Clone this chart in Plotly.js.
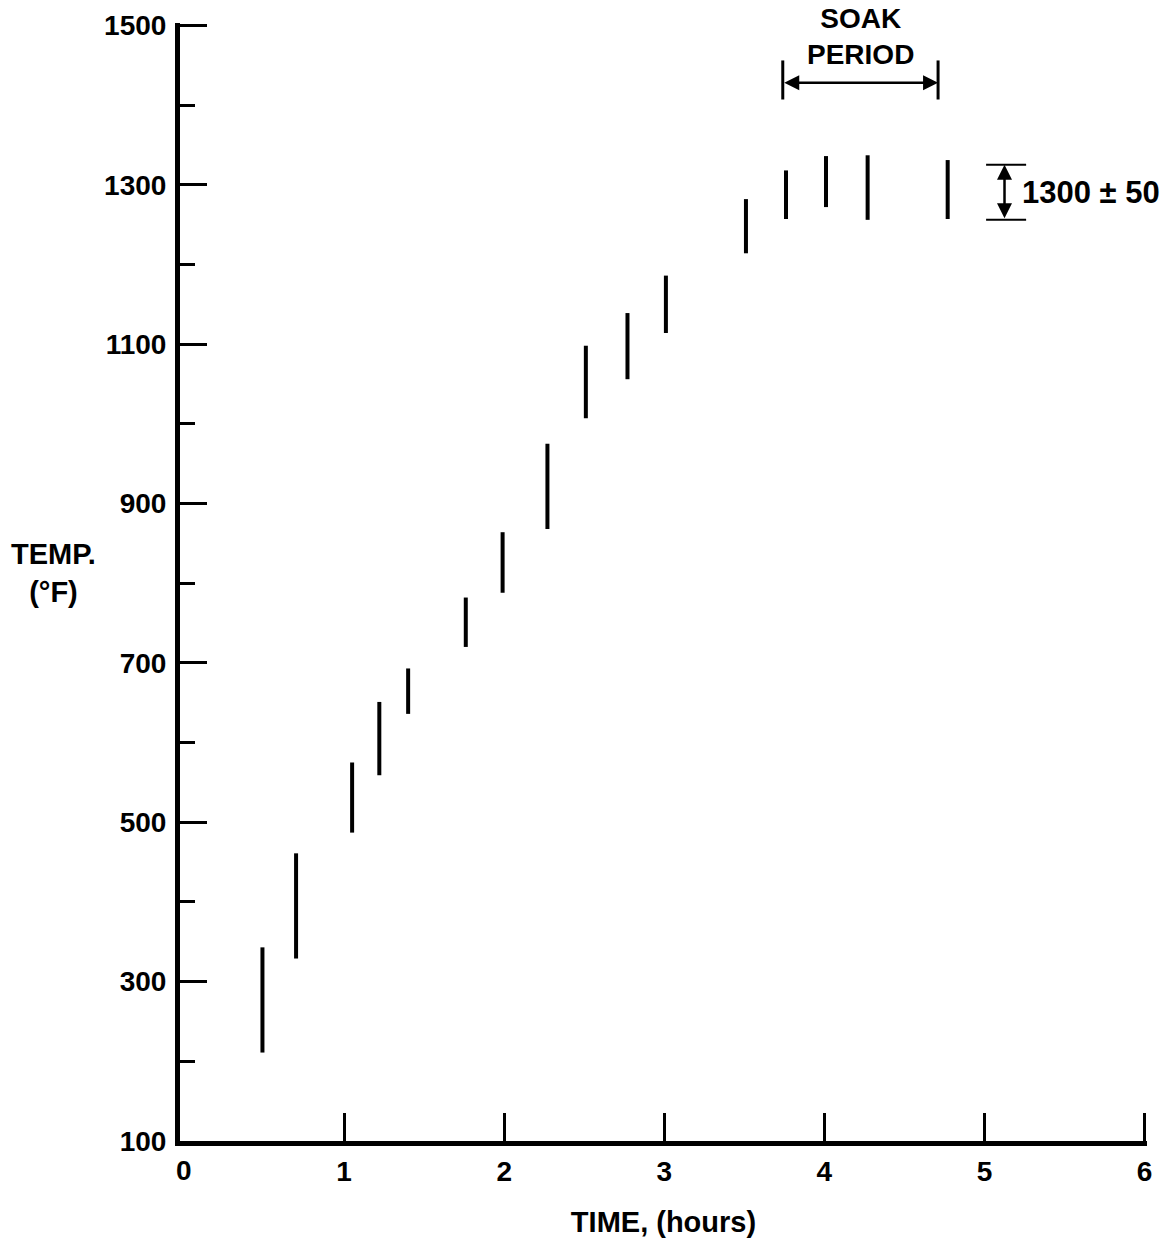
<!DOCTYPE html>
<html>
<head>
<meta charset="utf-8">
<script src="https://cdn.plot.ly/plotly-3.0.1.min.js"></script>
<style>
  html, body { margin: 0; padding: 0; background: #ffffff; }
  #chart { width: 1171px; height: 1250px; }
</style>
</head>
<body>
<div id="chart"></div>
<script>
// ---- Data ----
const timeHours = [0.49, 0.70, 1.05, 1.22, 1.40, 1.76, 1.99, 2.27, 2.51, 2.77, 3.01, 3.51, 3.76, 4.01, 4.27, 4.77];
const tempLow   = [211, 329, 487, 559, 636, 720, 788, 868, 1007, 1056, 1114, 1214, 1257, 1272, 1256, 1257];
const tempHigh  = [343, 461, 575, 651, 693, 782, 864, 975, 1098, 1139, 1186, 1282, 1318, 1336, 1337, 1331];

const xTickVals   = [0, 1, 2, 3, 4, 5, 6];
const xTickLabels = ['0', '1', '2', '3', '4', '5', '6'];
const yTickVals   = [100, 300, 500, 700, 900, 1100, 1300, 1500];
const yTickLabels = ['100', '300', '500', '700', '900', '1100', '1300', '1500'];

// Soak period bracket (hours) and tolerance band (°F)
const soakStart = 3.74;
const soakEnd   = 4.71;
const soakBracketLow  = 1407;
const soakBracketHigh = 1456;
const soakArrowY      = 1428;
const soakLabelY      = 1486;
const soakLabel       = 'SOAK<br>PERIOD';

const tolX0 = 5.01, tolX1 = 5.26, tolArrowX = 5.125;
const tolLow = 1256, tolHigh = 1325;
const tolLabel = '1300 ± 50';
const tolLabelX = 5.22, tolLabelY = 1290;

const xTitle = 'TIME, (hours)';
const yTitle = 'TEMP.<br>(°F)';

// ---- Build range segments ----
const segX = [], segY = [];
for (let i = 0; i < timeHours.length; i++) {
  segX.push(timeHours[i], timeHours[i], null);
  segY.push(tempLow[i], tempHigh[i], null);
}

const FONT = 'Liberation Sans, Arial, sans-serif';

const traces = [{
  type: 'scatter',
  mode: 'lines',
  x: segX,
  y: segY,
  line: { color: '#000', width: 4 },
  hoverinfo: 'skip',
  showlegend: false
}];

const layout = {
  width: 1171,
  height: 1250,
  margin: { l: 180, r: 24, t: 23, b: 109, pad: 0 },
  paper_bgcolor: '#fff',
  plot_bgcolor: '#fff',
  showlegend: false,
  font: { family: FONT, color: '#000', size: 28, weight: 'bold' },
  xaxis: {
    range: [-0.025, 6.015],
    tickvals: xTickVals.slice(1),
    ticktext: xTickLabels.slice(1),
    ticks: 'inside', ticklen: 28, tickwidth: 3, tickcolor: '#000',
    showline: true, linewidth: 5, linecolor: '#000',
    showgrid: false, zeroline: false,
    tickfont: { family: FONT, size: 28, color: '#000', weight: 'bold' },
    ticklabelstandoff: 1,
    title: { text: xTitle, font: { family: FONT, size: 29, color: '#000', weight: 'bold' }, standoff: 28 },
    fixedrange: true
  },
  yaxis: {
    range: [100, 1503],
    tickvals: yTickVals,
    ticktext: yTickLabels,
    ticks: 'inside', ticklen: 27, tickwidth: 3, tickcolor: '#000',
    minor: { ticks: 'inside', ticklen: 15, tickwidth: 3, tickcolor: '#000', dtick: 100, tick0: 100 },
    showline: true, linewidth: 5, linecolor: '#000',
    showgrid: false, zeroline: false,
    tickfont: { family: FONT, size: 28, color: '#000', weight: 'bold' },
    ticklabelstandoff: 3,
    fixedrange: true
  },
  shapes: [
    { type: 'line', xref: 'x', yref: 'y', x0: soakStart, x1: soakStart, y0: soakBracketLow, y1: soakBracketHigh, line: { color: '#000', width: 3 } },
    { type: 'line', xref: 'x', yref: 'y', x0: soakEnd, x1: soakEnd, y0: soakBracketLow, y1: soakBracketHigh, line: { color: '#000', width: 3 } },
    { type: 'line', xref: 'x', yref: 'y', x0: tolX0, x1: tolX1, y0: tolHigh, y1: tolHigh, line: { color: '#000', width: 2 } },
    { type: 'line', xref: 'x', yref: 'y', x0: tolX0, x1: tolX1, y0: tolLow, y1: tolLow, line: { color: '#000', width: 2 } }
  ],
  annotations: [
    // "0" tick label at the origin (no tick mark there in the reference)
    { xref: 'x', yref: 'paper', x: xTickVals[0], y: 0, yanchor: 'top', xanchor: 'center', yshift: -12,
      text: xTickLabels[0], showarrow: false, font: { family: FONT, size: 28, color: '#000', weight: 'bold' } },
    // Y title
    { xref: 'paper', yref: 'paper', x: -0.131, y: 0.508, xanchor: 'center', yanchor: 'middle',
      text: yTitle, showarrow: false, align: 'center',
      font: { family: FONT, size: 29, color: '#000', weight: 'bold' } },
    // Soak label
    { xref: 'x', yref: 'y', x: (soakStart + soakEnd) / 2, y: soakLabelY, xanchor: 'center', yanchor: 'middle',
      text: soakLabel, showarrow: false, align: 'center',
      font: { family: FONT, size: 28, color: '#000', weight: 'bold' } },
    // Soak double arrow
    { xref: 'x', yref: 'y', x: soakEnd, y: soakArrowY, axref: 'x', ayref: 'y', ax: soakStart, ay: soakArrowY,
      text: '', showarrow: true, arrowside: 'end+start', arrowhead: 2, arrowsize: 1.2, arrowwidth: 2.5, arrowcolor: '#000',
      standoff: 0, startstandoff: 0 },
    // Tolerance double arrow
    { xref: 'x', yref: 'y', x: tolArrowX, y: tolHigh, axref: 'x', ayref: 'y', ax: tolArrowX, ay: tolLow,
      text: '', showarrow: true, arrowside: 'end+start', arrowhead: 2, arrowsize: 1.2, arrowwidth: 2.5, arrowcolor: '#000',
      standoff: 0, startstandoff: 0 },
    // Tolerance label
    { xref: 'x', yref: 'y', x: tolLabelX, y: tolLabelY, xanchor: 'left', yanchor: 'middle',
      text: tolLabel, showarrow: false,
      font: { family: FONT, size: 31, color: '#000', weight: 'bold' } }
  ]
};

Plotly.newPlot('chart', traces, layout, { displayModeBar: false, staticPlot: true });
</script>
</body>
</html>
